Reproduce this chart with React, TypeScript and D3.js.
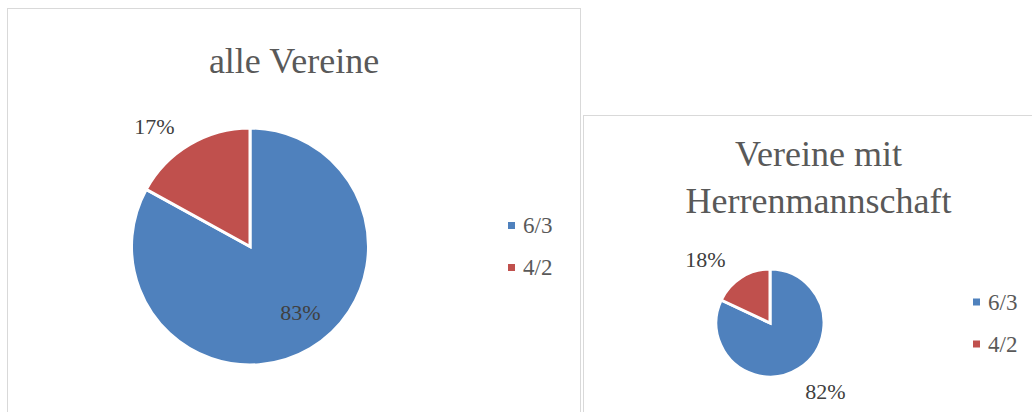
import React, { useEffect, useRef } from 'react';
import * as d3 from 'd3';

// series shared by both charts
const categories = ['6/3', '4/2'];
const colors = ['#4F81BD', '#C0504D'];

const allClubsValues = [83, 17];
const menTeamValues = [82, 18];

const allClubsTitle = ['alle Vereine'];
const menTeamTitle = ['Vereine mit', 'Herrenmannschaft'];

const W = 1032;
const H = 412;
const FONT = 'Liberation Serif';

type ChartCfg = {
  box: { x: number; y: number; w: number; h: number };
  title: string[];
  titleTop: number;
  values: number[];
  cx: number;
  cy: number;
  r: number;
  inside: boolean[];
  legendX: number;
};

const charts: ChartCfg[] = [
  {
    box: { x: 7.5, y: 8.5, w: 573, h: 420 },
    title: allClubsTitle,
    titleTop: 73,
    values: allClubsValues,
    cx: 250,
    cy: 246.5,
    r: 118.5,
    inside: [true, false],
    legendX: 508,
  },
  {
    box: { x: 583.5, y: 115.5, w: 470, h: 320 },
    title: menTeamTitle,
    titleTop: 166,
    values: menTeamValues,
    cx: 770,
    cy: 323,
    r: 54,
    inside: [false, false],
    legendX: 973,
  },
];

const App = () => {
  const ref = useRef<SVGSVGElement | null>(null);

  useEffect(() => {
    if (!ref.current) return;
    const svg = d3.select(ref.current);
    svg.selectAll('*').remove();

    svg.append('rect').attr('width', W).attr('height', H).attr('fill', '#fff');

    charts.forEach(c => {
      const g = svg.append('g').style('font-family', FONT);

      g.append('rect')
        .attr('x', c.box.x)
        .attr('y', c.box.y)
        .attr('width', c.box.w)
        .attr('height', c.box.h)
        .attr('fill', '#fff')
        .attr('stroke', '#d9d9d9')
        .attr('stroke-width', 1);

      const midX = c.box.x + c.box.w / 2;
      c.title.forEach((t, i) => {
        g.append('text')
          .attr('x', midX)
          .attr('y', c.titleTop + i * 47)
          .attr('text-anchor', 'middle')
          .attr('font-size', 36)
          .attr('fill', '#595959')
          .text(t);
      });

      const pie = d3.pie<number>().sort(null).value(d => d);
      const arcs = pie(c.values);
      const arc = d3.arc<d3.PieArcDatum<number>>().innerRadius(0).outerRadius(c.r);

      const pg = g.append('g').attr('transform', `translate(${c.cx},${c.cy})`);
      pg.selectAll('path')
        .data(arcs)
        .enter()
        .append('path')
        .attr('d', arc)
        .attr('fill', (_, i) => colors[i])
        .attr('stroke', '#fff')
        .attr('stroke-width', 3)
        .attr('stroke-linejoin', 'miter');

      const total = d3.sum(c.values);
      arcs.forEach((a, i) => {
        const mid = (a.startAngle + a.endAngle) / 2;
        const dx = Math.sin(mid);
        const dy = -Math.cos(mid);
        const label = d3.format('.0%')(a.value / total);
        const t = pg.append('text')
          .attr('font-size', 22)
          .attr('fill', '#404040')
          .text(label);
        if (c.inside[i]) {
          const [lx, ly] = d3.arc<d3.PieArcDatum<number>>()
            .innerRadius(c.r * 0.72).outerRadius(c.r * 0.72).centroid(a);
          t.attr('x', lx + 7).attr('y', ly - 7)
            .attr('text-anchor', 'middle')
            .attr('dominant-baseline', 'central');
        } else {
          const d = c.r + 12;
          const px = dx * d + (dx < 0 ? -9 : 0);
          const py = dy * d;
          t.attr('x', px)
            .attr('y', dy < 0 ? py : py + 20)
            .attr('text-anchor', dx < 0 ? 'end' : 'start');
        }
      });

      const gap = 42;
      categories.forEach((cat, i) => {
        const y = c.cy - gap / 2 + i * gap;
        g.append('rect')
          .attr('x', c.legendX)
          .attr('y', y - 3.5)
          .attr('width', 7)
          .attr('height', 7)
          .attr('fill', colors[i]);
        g.append('text')
          .attr('x', c.legendX + 15)
          .attr('y', y)
          .attr('dominant-baseline', 'central')
          .attr('font-size', 23)
          .attr('fill', '#595959')
          .text(cat);
      });
    });
  }, []);

  return (
    <svg
      ref={ref}
      width={W}
      height={H}
      style={{ position: 'absolute', left: 0, top: 0, display: 'block' }}
    />
  );
};

export default App;
